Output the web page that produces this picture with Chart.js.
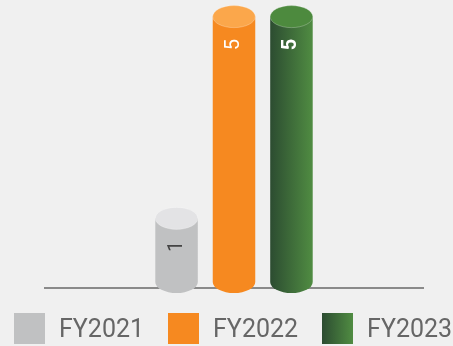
<!DOCTYPE html>
<html>
<head>
<meta charset="utf-8">
<script src="https://cdn.jsdelivr.net/npm/chart.js@4/dist/chart.umd.min.js"></script>
<style>
  html, body { margin: 0; padding: 0; background: #f0f0f0; }
  #wrap { position: relative; width: 453px; height: 346px; overflow: hidden; }
  #chart { position: absolute; left: 0; top: 0; }
  #legend { position: absolute; left: 14px; top: 313px; display: flex; gap: 24px; white-space: nowrap;
            font-family: Roboto, "Noto Sans", sans-serif; font-size: 25px; color: #666; }
  .item { display: flex; align-items: center; height: 31px; }
  .box { width: 31px; height: 31px; margin-right: 14px; flex: none; }
</style>
</head>
<body>
<div id="wrap">
  <canvas id="chart" width="453" height="346"></canvas>
  <div id="legend"></div>
</div>
<script>
// Fiscal-year totals shown as cylinders
const categories = [''];
const seriesNames = ['FY2021', 'FY2022', 'FY2023'];
const fy2021 = [1];
const fy2022 = [5];
const fy2023 = [5];

// Cylinder palettes: body, top face, label colour, label weight
const palettes = [
  { body: ['#c0c1c2', '#c0c1c2'], top: '#e3e3e5', label: '#444444', weight: 'normal' },
  { body: ['#f68920', '#f68920'], top: '#fba74b', label: '#ffffff', weight: 'normal' },
  { body: ['#2c4c31', '#508c42'], top: '#4d8a3e', label: '#ffffff', weight: 'bold' }
];

const cylinderPlugin = {
  id: 'cylinders',
  beforeDatasetDraw(chart, args) {
    const ctx = chart.ctx;
    const pal = palettes[args.index];
    const bottomY = chart.chartArea.bottom - 6;
    const ry = 11;
    args.meta.data.forEach((bar) => {
      const rx = bar.width / 2;
      const x0 = bar.x - rx, x1 = bar.x + rx;
      const topY = bar.y;
      ctx.save();
      const grad = ctx.createLinearGradient(x0, 0, x1, 0);
      grad.addColorStop(0, pal.body[0]);
      grad.addColorStop(1, pal.body[1]);
      // body with rounded bottom
      ctx.beginPath();
      ctx.moveTo(x0, topY);
      ctx.lineTo(x0, bottomY);
      ctx.ellipse(bar.x, bottomY, rx, ry, 0, Math.PI, 0, true);
      ctx.lineTo(x1, topY);
      ctx.closePath();
      ctx.fillStyle = grad;
      ctx.fill();
      // top face
      ctx.beginPath();
      ctx.ellipse(bar.x, topY, rx, ry, 0, 0, Math.PI * 2);
      ctx.fillStyle = pal.top;
      ctx.fill();
      ctx.lineWidth = 1;
      ctx.strokeStyle = 'rgba(255,255,255,0.25)';
      ctx.stroke();
      ctx.restore();
    });
    return false;
  },
  afterDatasetsDraw(chart) {
    const ctx = chart.ctx;
    chart.data.datasets.forEach((ds, i) => {
      const meta = chart.getDatasetMeta(i);
      const pal = palettes[i];
      meta.data.forEach((bar, j) => {
        ctx.save();
        ctx.translate(bar.x, bar.y + 28);
        ctx.rotate(-Math.PI / 2);
        ctx.font = pal.weight + ' 20px Roboto, "Noto Sans", sans-serif';
        ctx.fillStyle = pal.label;
        ctx.textAlign = 'center';
        ctx.textBaseline = 'middle';
        ctx.fillText(String(ds.data[j]), 0, 0);
        ctx.restore();
      });
    });
  }
};

const values = [fy2021, fy2022, fy2023];
const chart = new Chart(document.getElementById('chart'), {
  type: 'bar',
  data: {
    labels: categories,
    datasets: seriesNames.map((name, i) => ({
      label: name,
      data: values[i],
      backgroundColor: palettes[i].body[1],
      categoryPercentage: 0.456,
      barPercentage: 0.74
    }))
  },
  options: {
    responsive: false,
    animation: false,
    devicePixelRatio: 1,
    layout: { padding: { left: 45, right: 30, top: 4, bottom: 58 } },
    plugins: { legend: { display: false }, tooltip: { enabled: false } },
    scales: {
      x: {
        display: true,
        grid: { display: false, drawTicks: false },
        ticks: { display: false },
        border: { display: true, color: '#8a8a8a', width: 2 }
      },
      y: {
        display: false,
        min: -0.38,
        max: 5.25
      }
    }
  },
  plugins: [cylinderPlugin]
});

// Legend built from the series names and palettes
const legend = document.getElementById('legend');
seriesNames.forEach((name, i) => {
  const item = document.createElement('div');
  item.className = 'item';
  const box = document.createElement('span');
  box.className = 'box';
  box.style.background = 'linear-gradient(to right, ' + palettes[i].body[0] + ', ' + palettes[i].body[1] + ')';
  const label = document.createElement('span');
  label.textContent = name;
  item.appendChild(box);
  item.appendChild(label);
  legend.appendChild(item);
});
</script>
</body>
</html>
